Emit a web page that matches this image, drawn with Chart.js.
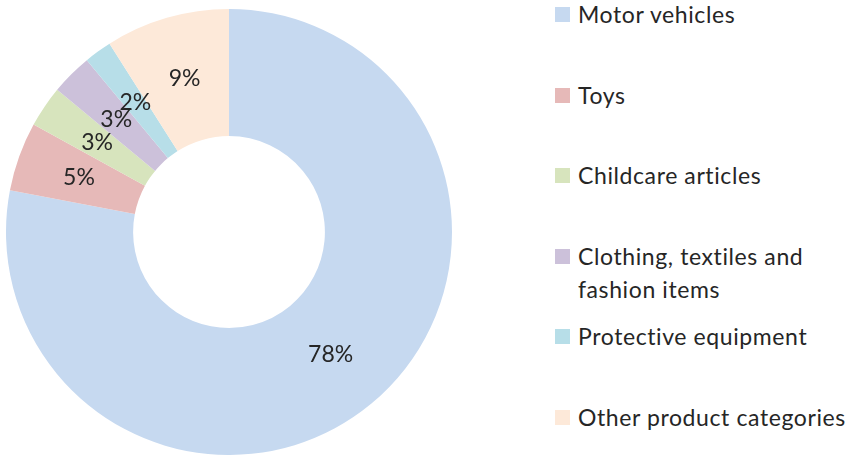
<!DOCTYPE html>
<html>
<head>
<meta charset="utf-8">
<script src="https://cdn.jsdelivr.net/npm/chart.js@4.4.0/dist/chart.umd.min.js"></script>
<style>
  html, body { margin: 0; padding: 0; background: #fff; }
  body { width: 851px; height: 457px; position: relative; overflow: hidden; font-family: Lato, "Open Sans", sans-serif; }
  #chartBox { position: absolute; left: 6px; top: 9px; width: 446px; height: 446px; }
  #legend { position: absolute; left: 555px; top: 0; width: 296px; height: 457px; }
  .item { position: absolute; left: 0; display: flex; align-items: flex-start; color: #262626; font-size: 23px; letter-spacing: 0.6px; line-height: 33px; }
  .swatch { width: 15px; height: 15px; margin-top: 9px; margin-right: 8px; flex: none; }
  .text { max-width: 285px; white-space: normal; }
</style>
</head>
<body>
<div id="chartBox"><canvas id="pieChart"></canvas></div>
<div id="legend"></div>
<script>
const categories = [
  "Motor vehicles",
  "Toys",
  "Childcare articles",
  "Clothing, textiles and fashion items",
  "Protective equipment",
  "Other product categories",
];
const shares = [78, 5, 3, 3, 2, 9];
const colors = ["#c6d9f0", "#e6b9b8", "#d7e4bd", "#ccc1da", "#b7dee8", "#fde9d9"];

// percentage labels in the middle of each ring segment
const sliceLabels = {
  id: "sliceLabels",
  afterDatasetsDraw(chart) {
    const ctx = chart.ctx;
    const meta = chart.getDatasetMeta(0);
    ctx.save();
    ctx.font = "23px Lato, 'Open Sans', sans-serif";
    ctx.fillStyle = "#262626";
    ctx.textAlign = "center";
    ctx.textBaseline = "middle";
    meta.data.forEach((arc, i) => {
      const pos = arc.tooltipPosition();
      ctx.fillText(chart.data.datasets[0].data[i] + "%", pos.x, pos.y);
    });
    ctx.restore();
  },
};

const pieCtx = document.getElementById("pieChart").getContext("2d");
new Chart(pieCtx, {
  type: "doughnut",
  data: {
    labels: categories,
    datasets: [
      {
        data: shares,
        backgroundColor: colors,
        borderWidth: 0,
      },
    ],
  },
  options: {
    responsive: true,
    maintainAspectRatio: false,
    animation: false,
    cutout: "43%",
    layout: { padding: 0 },
    plugins: {
      legend: { display: false },
      tooltip: { enabled: false },
    },
  },
  plugins: [sliceLabels],
});

// legend on the right, one slot per category
const legend = document.getElementById("legend");
categories.forEach((name, i) => {
  const item = document.createElement("div");
  item.className = "item";
  item.style.top = (-2 + i * 80.6) + "px";
  const sw = document.createElement("span");
  sw.className = "swatch";
  sw.style.background = colors[i];
  const txt = document.createElement("span");
  txt.className = "text";
  txt.textContent = name;
  item.appendChild(sw);
  item.appendChild(txt);
  legend.appendChild(item);
});
</script>
</body>
</html>
